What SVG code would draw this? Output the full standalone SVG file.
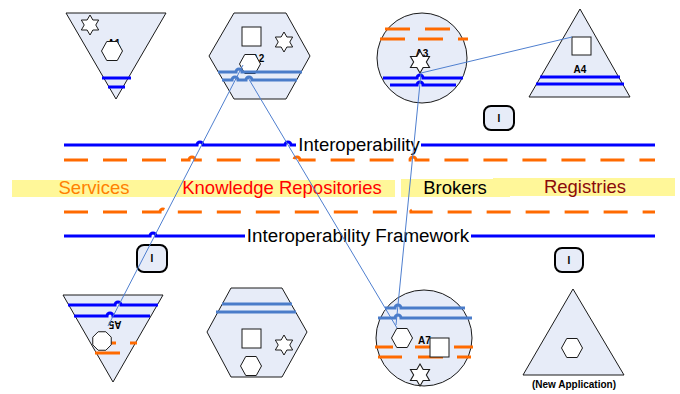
<svg xmlns="http://www.w3.org/2000/svg" width="680" height="394" viewBox="0 0 680 394">
<style>
.shape{fill:#e7ecf8;stroke:#1a1a1a;stroke-width:1}
.wh{fill:#fff;stroke:#1a1a1a;stroke-width:1}
.bl{fill:none;stroke:#0000ff;stroke-width:3}
.sb{fill:none;stroke:#4a7cc9;stroke-width:3}
.or{fill:none;stroke:#ff6a00;stroke-width:3}
.dash{fill:none;stroke:#ff6a00;stroke-width:3;stroke-dasharray:24 15}
.conn{fill:none;stroke:#4f7fcf;stroke-width:1}
.lbl{font-family:"Liberation Sans",Arial,sans-serif;font-weight:bold;font-size:10px;fill:#000}
.big{font-family:"Liberation Sans",Arial,sans-serif;font-size:18.5px}
.ib{fill:#e7ecf8;stroke:#000;stroke-width:2}
</style>
<defs>
<polygon id="star" points="0,-10 2.89,-5 8.66,-5 5.77,0 8.66,5 2.89,5 0,10 -2.89,5 -8.66,5 -5.77,0 -8.66,-5 -2.89,-5" class="wh"/>
<polygon id="hex" points="-10.5,0 -5.25,-9.5 5.25,-9.5 10.5,0 5.25,9.5 -5.25,9.5" class="wh"/>
<polygon id="oct" points="-3.83,-9.24 3.83,-9.24 9.24,-3.83 9.24,3.83 3.83,9.24 -3.83,9.24 -9.24,3.83 -9.24,-3.83" class="wh"/>
</defs>

<g id="band">
<rect x="12" y="180" width="383" height="17" fill="#fff799"/>
<rect x="401" y="179" width="109" height="18" fill="#fff799"/>
<rect x="493" y="178" width="182" height="18" fill="#fff799"/>
<text class="big" x="94" y="194" text-anchor="middle" fill="#ff8000">Services</text>
<text class="big" x="282" y="194" text-anchor="middle" fill="#ff0000">Knowledge Repositories</text>
<text class="big" x="455" y="194" text-anchor="middle" fill="#000">Brokers</text>
<text class="big" x="585" y="193" text-anchor="middle" fill="#8b0a0a">Registries</text>
</g>

<g id="interop">
<path class="bl" d="M64 145 H197 a3 3 0 0 1 6 0 H285 a3 3 0 0 1 6 0 H296"/>
<path class="bl" d="M421 145 H655"/>
<text x="359" y="151" text-anchor="middle" font-family="Liberation Sans, Arial, sans-serif" font-size="18.5" fill="#000">Interoperability</text>
<path class="dash" d="M64 160 H189 a3 3 0 0 1 6 0 H294 a3 3 0 0 1 6 0 H410 a3 3 0 0 1 6 0 H655"/>
</g>

<g id="framework">
<path class="dash" d="M64 212 H160 a3 3 0 0 1 6 0 H405 a3 3 0 0 1 6 0 H655"/>
<path class="bl" d="M64 236 H150 a3 3 0 0 1 6 0 H245"/>
<path class="bl" d="M471 236 H655"/>
<text x="358" y="242" text-anchor="middle" font-family="Liberation Sans, Arial, sans-serif" font-size="18.8" fill="#000">Interoperability Framework</text>
</g>

<g id="A1">
<polygon class="shape" points="66,13 166,13 116,99"/>
<use href="#star" x="90" y="25"/>
<text class="lbl" x="114" y="47" text-anchor="middle">A1</text>
<use href="#hex" x="112" y="51"/>
<path class="bl" d="M102 78 H131"/>
<path class="bl" d="M108 87 H125"/>
</g>

<g id="A2">
<polygon class="shape" points="234,13 286,13 310,56 286,99 234,99 209,56"/>
<rect class="wh" x="242" y="27" width="19" height="19"/>
<use href="#star" x="284" y="42"/>
<text class="lbl" x="258" y="62" text-anchor="middle">A2</text>
<use href="#hex" x="250" y="64"/>
<path class="sb" d="M218 72 H236 a3 3 0 0 1 6 0 H302"/>
<path class="sb" d="M222 80 H232 a3 3 0 0 1 6 0 H246 a3 3 0 0 1 6 0 H297"/>
</g>

<g id="A3">
<circle class="shape" cx="422" cy="58" r="45"/>
<path class="or" d="M385 29 H410 M425 29 H450"/>
<path class="or" d="M380 39 H405 M418 39 H443 M458 39 H468"/>
<text class="lbl" x="422" y="57" text-anchor="middle">A3</text>
<use href="#star" x="420" y="62" transform="translate(420 62) scale(1.1) translate(-420 -62)"/>
<path class="bl" d="M383 78 H417 a3 3 0 0 1 6 0 H463"/>
<path class="bl" d="M390 85 H417 a3 3 0 0 1 6 0 H456"/>
</g>

<g id="A4">
<polygon class="shape" points="580,9 630,97 529,97"/>
<rect class="wh" x="572" y="37" width="19" height="18"/>
<text class="lbl" x="580" y="73" text-anchor="middle">A4</text>
<path class="bl" d="M540 77 H620"/>
<path class="bl" d="M536 84 H624"/>
</g>

<g id="A5">
<polygon class="shape" points="63,295 163,295 113,382"/>
<path class="bl" d="M68 305 H115 a3 3 0 0 1 6 0 H158"/>
<path class="bl" d="M74 316 H107 a3 3 0 0 1 6 0 H150"/>
<text class="lbl" x="0" y="0" text-anchor="middle" transform="translate(115 321) rotate(180)">A5</text>
<path class="or" d="M108 343 H116 M130 343 H137"/>
<path class="or" d="M95 353 H120"/>
<use href="#oct" x="102" y="341"/>
</g>

<g id="A6">
<polygon class="shape" points="231,288 282,288 307,332 282,377 231,377 207,332"/>
<path class="sb" d="M222 304 H292"/>
<path class="sb" d="M216 312 H296"/>
<rect class="wh" x="242" y="329" width="19" height="19"/>
<use href="#star" x="284" y="345"/>
<use href="#hex" x="251" y="366"/>
</g>

<g id="A7">
<circle class="shape" cx="424" cy="338" r="48"/>
<path class="sb" d="M385 308 H395 a3 3 0 0 1 6 0 H465"/>
<path class="sb" d="M378 318 H395 a3 3 0 0 1 6 0 H472"/>
<use href="#hex" x="402" y="338"/>
<text class="lbl" x="418" y="344">A7</text>
<path class="or" d="M375 347 H393 M415 347 H432 M454 347 H473"/>
<path class="or" d="M378 357 H402 M418 357 H443 M457 357 H471"/>
<rect class="wh" x="430" y="338" width="19" height="19"/>
<use href="#star" x="420" y="375" transform="translate(420 375) scale(1.1) translate(-420 -375)"/>
</g>

<g id="NewApp">
<polygon class="shape" points="573,289 624,375 523,375"/>
<use href="#hex" x="572" y="348"/>
<text class="lbl" x="574" y="388" text-anchor="middle" font-size="9">(New Application)</text>
</g>

<g id="I1">
<rect class="ib" x="484" y="106" width="30" height="24" rx="7"/>
<text class="lbl" x="499" y="122" text-anchor="middle" font-size="9">I</text>
</g>
<g id="I2">
<rect class="ib" x="137" y="245" width="30" height="27" rx="7"/>
<text class="lbl" x="152" y="262" text-anchor="middle" font-size="9">I</text>
</g>
<g id="I3">
<rect class="ib" x="555" y="248" width="28" height="24" rx="7"/>
<text class="lbl" x="569" y="264" text-anchor="middle" font-size="9">I</text>
</g>

<g id="connectors">
<path class="conn" d="M243 65 L108 326"/>
<path class="conn" d="M247 76 L397 328"/>
<path class="conn" d="M421 73 L572 37"/>
<path class="conn" d="M421 73 L396 325"/>
</g>
</svg>
